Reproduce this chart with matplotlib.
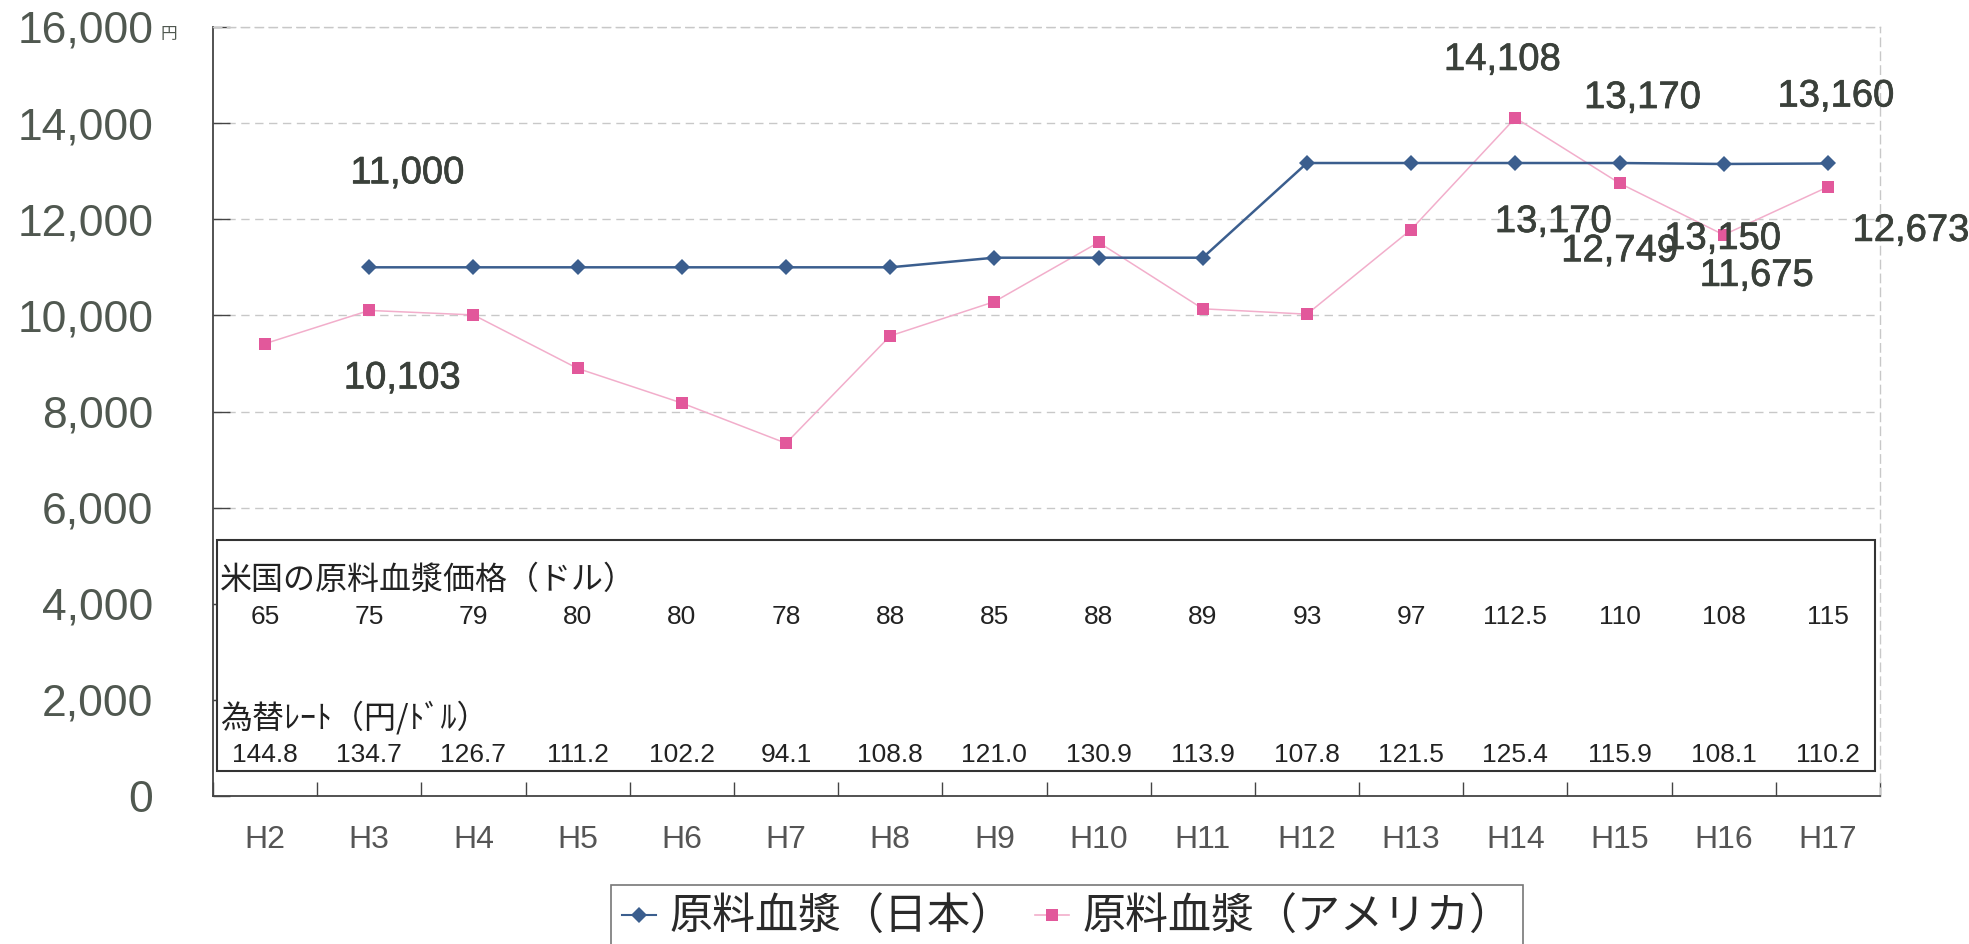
import numpy as np
import matplotlib
matplotlib.use("Agg")
import matplotlib.pyplot as plt
import matplotlib.patheffects as pe
from matplotlib import font_manager
from matplotlib.patches import Rectangle
from matplotlib.ticker import FuncFormatter, MultipleLocator

# data
years = ['H2', 'H3', 'H4', 'H5', 'H6', 'H7', 'H8', 'H9', 'H10', 'H11', 'H12', 'H13', 'H14', 'H15', 'H16', 'H17']
japan = [np.nan, 11000, 11000, 11000, 11000, 11000, 11000, 11200, 11200, 11200, 13170, 13170, 13170, 13170, 13150, 13160]
america = [9412, 10103, 10009, 8896, 8176, 7340, 9574, 10285, 11519, 10137, 10025, 11786, 14108, 12749, 11675, 12673]
us_dollar = ['65', '75', '79', '80', '80', '78', '88', '85', '88', '89', '93', '97', '112.5', '110', '108', '115']
fx_rate = ['144.8', '134.7', '126.7', '111.2', '102.2', '94.1', '108.8', '121.0', '130.9', '113.9', '107.8', '121.5', '125.4', '115.9', '108.1', '110.2']
yticks = np.arange(0, 16001, 2000)

# which points get a value label, and where the label sits (pixels from point)
japanLabels = {1: (38, 94), 12: (38, -59), 13: (23, 65), 14: (-1, -75), 15: (8, 67)}
americaLabels = {1: (33, -68), 12: (-13, 58), 13: (0, -68), 14: (33, -41), 15: (83, -44)}

names = {f.name for f in font_manager.fontManager.ttflist}
narrow = 'Liberation Sans Narrow' if 'Liberation Sans Narrow' in names else 'Liberation Sans'
numSize = 21 if narrow == 'Liberation Sans Narrow' else 19
jp = ['Noto Sans CJK JP', 'DejaVu Sans']
plt.rcParams['font.family'] = ['Liberation Sans', 'Noto Sans CJK JP', 'DejaVu Sans']

blue = '#3b5e8e'
pink = '#e2589b'
pinkLine = '#f2aecb'
labelColor = '#3a403a'
tickColor = '#505850'
bold = [pe.withStroke(linewidth=0.5, foreground=labelColor)]

fig = plt.figure(figsize=(19.69, 9.44), dpi=100)
ax = fig.add_axes([213/1969, 1-796/944, 1667/1969, 769/944])
x = np.arange(len(years))

ax.plot(x, america, '-', color=pinkLine, linewidth=1.1, zorder=3)
ax.plot(x, america, 's', color=pink, markersize=8, markeredgewidth=0, zorder=4)
ax.plot(x, japan, '-', color=blue, linewidth=1.8, zorder=5)
ax.plot(x, japan, 'D', color=blue, markersize=8.5, markeredgewidth=0, zorder=6)

for i, off in japanLabels.items():
    ax.annotate(f"{japan[i]:,}", xy=(x[i], japan[i]), xytext=off, textcoords='offset pixels',
                ha='center', va='center', fontsize=27.5, color=labelColor, zorder=8,
                annotation_clip=False, path_effects=bold)
for i, off in americaLabels.items():
    ax.annotate(f"{america[i]:,}", xy=(x[i], america[i]), xytext=off, textcoords='offset pixels',
                ha='center', va='center', fontsize=27.5, color=labelColor, zorder=8,
                annotation_clip=False, path_effects=bold)

ax.set_xlim(-0.5, len(years) - 0.5)
ax.set_ylim(0, 16000)
ax.set_yticks(yticks)
ax.yaxis.set_major_formatter(FuncFormatter(lambda v, p: f"{int(v):,}"))
ax.tick_params(axis='y', direction='in', length=12, width=1, pad=43, labelsize=32, labelcolor=tickColor, color='#444444')
ax.set_xticks(x)
ax.set_xticklabels(years)
ax.xaxis.set_minor_locator(MultipleLocator(1, offset=0.5))
ax.tick_params(axis='x', which='major', length=0, pad=21, labelsize=23, labelcolor='#555555')
ax.tick_params(axis='x', which='minor', direction='in', length=10, width=1, color='#444444')

ax.grid(axis='y', color='#c8c8c8', linestyle=(0, (6, 4)), linewidth=1, zorder=0)
for s in ['left', 'bottom']:
    ax.spines[s].set_color('#444444')
    ax.spines[s].set_linewidth(1.3)
for s in ['top', 'right']:
    ax.spines[s].set_color('#c8c8c8')
    ax.spines[s].set_linestyle((0, (6, 4)))
    ax.spines[s].set_linewidth(1)

ax.annotate('円', xy=(0, 16000), xycoords=('axes fraction', 'data'), xytext=(-53, -8),
            textcoords='offset pixels', ha='left', va='center', fontsize=12, family=jp, color=tickColor)

# table of prices and exchange rates inside the plot
ax.add_patch(Rectangle((-0.46, 520), 15.91, 4807, facecolor='white', edgecolor='#333333', linewidth=1.5, zorder=2))
ax.text(-0.43, 4495, '米国の原料血漿価格（ドル）', family=jp, fontsize=23, color='#222222', ha='left', va='center', zorder=7)
ax.text(-0.43, 1623, '為替ﾚｰﾄ（円/ﾄﾞﾙ）', family=jp, fontsize=23, color='#222222', ha='left', va='center', zorder=7)
for i in range(len(years)):
    ax.text(x[i], 3725, us_dollar[i], family=[narrow], fontsize=numSize, color='#222222', ha='center', va='center', zorder=7)
    ax.text(x[i], 853, fx_rate[i], family=[narrow], fontsize=numSize, color='#222222', ha='center', va='center', zorder=7)

h1, = ax.plot([], [], '-D', color=blue, markersize=8.5, linewidth=1.5, markeredgewidth=0)
h2, = ax.plot([], [], '-s', color=pinkLine, markerfacecolor=pink, markersize=8, linewidth=1.2, markeredgewidth=0)
leg = fig.legend([h1, h2], ['原料血漿（日本）', '原料血漿（アメリカ）'], loc='upper center',
                 bbox_to_anchor=(1067/1969, 1-885/944), ncol=2, frameon=True, fancybox=False,
                 prop={'family': jp, 'size': 31}, handlelength=0.8, handletextpad=0.3,
                 columnspacing=0.5, borderpad=0.25, borderaxespad=0)
leg.get_frame().set_edgecolor('#555555')
leg.get_frame().set_linewidth(1.2)
for t in leg.get_texts():
    t.set_color('#2a2a2a')

plt.savefig('out.png', dpi=100)
